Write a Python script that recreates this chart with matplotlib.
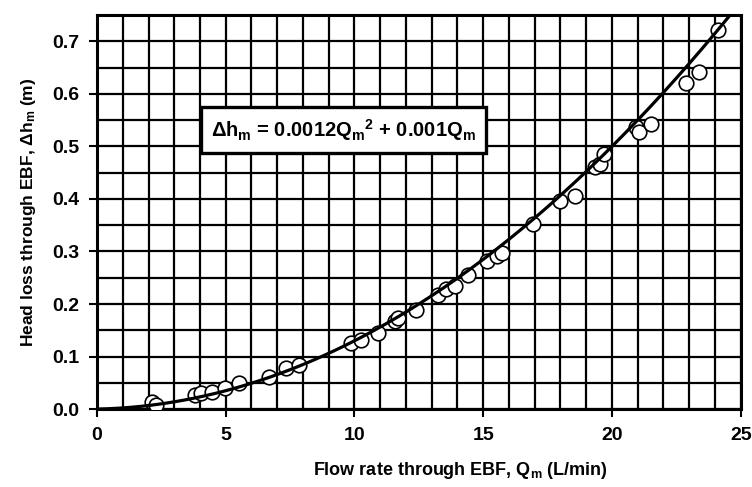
import numpy as np
import matplotlib
matplotlib.use("Agg")
import matplotlib.pyplot as plt

plt.rcParams['font.family'] = ['Liberation Sans', 'DejaVu Sans']
plt.rcParams['font.weight'] = 'bold'
plt.rcParams['axes.labelweight'] = 'bold'
plt.rcParams['mathtext.fontset'] = 'custom'
plt.rcParams['mathtext.rm'] = 'Liberation Sans:bold'
plt.rcParams['mathtext.it'] = 'Liberation Sans:bold'
plt.rcParams['mathtext.bf'] = 'Liberation Sans:bold'

# measured points: flow rate (L/min) and head loss (m)
flow = [2.13, 2.3, 3.82, 4.02, 4.47, 4.99, 5.51, 6.68, 7.33, 7.84,
        9.87, 10.26, 10.91, 11.56, 11.69, 12.4, 13.25, 13.57, 13.9, 14.42,
        15.13, 15.52, 15.72, 16.95, 17.99, 18.58, 19.36, 19.55, 19.68,
        20.92, 21.05, 21.5, 22.87, 23.39, 24.1]
head = [0.014, 0.008, 0.027, 0.030, 0.033, 0.040, 0.049, 0.062, 0.078, 0.084,
        0.126, 0.132, 0.145, 0.167, 0.173, 0.189, 0.218, 0.228, 0.234, 0.256,
        0.282, 0.291, 0.298, 0.352, 0.396, 0.406, 0.460, 0.467, 0.486,
        0.537, 0.527, 0.543, 0.620, 0.642, 0.721]

# fitted curve coefficients
coef_a = 0.0012
coef_b = 0.001

fig = plt.figure(figsize=(7.52, 4.87), dpi=100)
ax = fig.add_axes([0.129, 0.160, 0.856, 0.809])

q = np.linspace(0, 25, 300)
ax.plot(q, coef_a * q**2 + coef_b * q, color='black', lw=2.3, zorder=4)
ax.plot(flow, head, 'o', mfc='white', mec='black', mew=1.2, ms=10.5, zorder=3)

ax.set_xlim(0, 25)
ax.set_ylim(0, 0.75)
ax.set_xticks(np.arange(0, 26, 5))
ax.set_yticks(np.arange(0, 0.71, 0.1))
ax.set_yticklabels(['%.1f' % v for v in np.arange(0, 0.71, 0.1)])
ax.set_xticks(np.arange(0, 26, 1), minor=True)
ax.set_yticks(np.arange(0, 0.751, 0.05), minor=True)
ax.grid(which='both', color='black', lw=1.6)
ax.set_axisbelow(True)
ax.tick_params(which='major', direction='out', length=6, width=1.5,
               labelsize=14, pad=7)
ax.tick_params(which='minor', length=0)
for s in ax.spines.values():
    s.set_linewidth(2.2)

ax.set_xlabel('Flow rate through EBF, Q$_\\mathrm{m}$ (L/min)', fontsize=13)
ax.xaxis.set_label_coords(0.564, -0.13)
ax.set_ylabel('Head loss through EBF, \u0394h$_\\mathrm{m}$ (m)',
              fontsize=12.5, labelpad=10)

ax.text(9.56, 0.532,
        '\u0394h$_\\mathrm{m}$ = 0.0012Q$_\\mathrm{m}$$^\\mathrm{2}$ + 0.001Q$_\\mathrm{m}$',
        fontsize=14.5, ha='center', va='center', zorder=6,
        bbox=dict(boxstyle='square,pad=0.5', fc='white', ec='black', lw=2.4))

fig.savefig('out.png', dpi=100)
